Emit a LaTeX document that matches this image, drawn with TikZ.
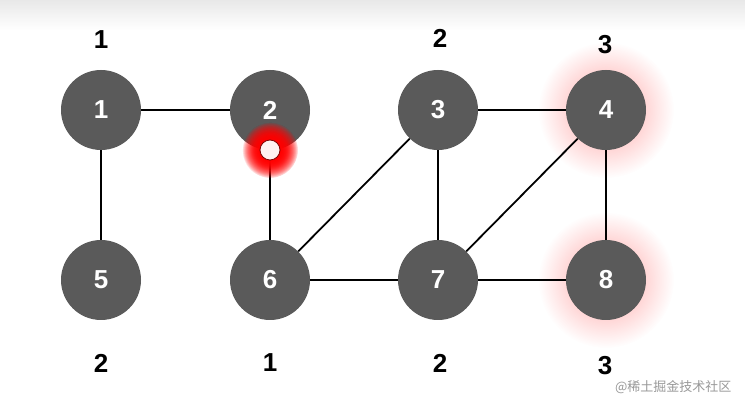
\documentclass[tikz,border=0pt]{standalone}
\usepackage{fontspec}
\setmainfont{Liberation Sans}
\newfontfamily\cjk{Noto Sans CJK SC}
\usetikzlibrary{fadings}
\tikzfading[name=glowfade, inner color=transparent!0, outer color=transparent!100]
\definecolor{nodegray}{HTML}{5A5A5A}
\tikzset{
  vtx/.style={circle, fill=nodegray, minimum size=80pt, inner sep=0pt, text=white, font=\fontsize{26}{26}\selectfont\bfseries},
  lab/.style={text=black, font=\fontsize{26}{26}\selectfont\bfseries},
  edge/.style={line width=1.8pt, black},
  redglow/.style={fill=red, path fading=glowfade},
}
\begin{document}
\begin{tikzpicture}[x=1pt,y=-1pt]
\useasboundingbox (0,0) rectangle (745,411);
\fill[white] (0,0) rectangle (745,411);
\shade[top color=black!9, bottom color=white] (0,0) rectangle (745,30);
% glows
\fill[red, opacity=0.38, path fading=glowfade] (606,110) circle (68);
\fill[red, opacity=0.38, path fading=glowfade] (606,280) circle (68);
% vertices
\node[vtx] (n1) at (101,110) {1};
\node[vtx] (n2) at (270,110) {2};
\node[vtx] (n3) at (438,110) {3};
\node[vtx] (n4) at (606,110) {4};
\node[vtx] (n5) at (101,280) {5};
\node[vtx] (n6) at (270,280) {6};
\node[vtx] (n7) at (438,280) {7};
\node[vtx] (n8) at (606,280) {8};
% edges
\draw[edge] (n1) -- (n2);
\draw[edge] (n1) -- (n5);
\draw[edge] (n2) -- (n6);
\draw[edge] (n3) -- (n4);
\draw[edge] (n3) -- (n6);
\draw[edge] (n3) -- (n7);
\draw[edge] (n4) -- (n7);
\draw[edge] (n4) -- (n8);
\draw[edge] (n6) -- (n7);
\draw[edge] (n7) -- (n8);
% labels
\node[lab] (l1) at (101,40) {1};
\node[lab] (l3) at (440,38) {2};
\node[lab] (l4) at (605,45) {3};
\node[lab] (l5) at (101,363) {2};
\node[lab] (l6) at (270,363) {1};
\node[lab] (l7) at (440,363) {2};
\node[lab] (l8) at (605,366) {3};
% red marker
\foreach \k in {1,...,4} { \path[redglow] (270,150) circle (28); }
\path[redglow] (270,150) circle (20);
\node[circle, fill=red!6, draw=red!50!black, line width=0.8pt, minimum size=20pt, inner sep=0pt] (dot) at (270,150) {};
% watermark
\node[text=black!40, font=\cjk\fontsize{13}{13}\selectfont, anchor=east] (wm) at (735,387) {@稀土掘金技术社区};
\end{tikzpicture}
\end{document}
